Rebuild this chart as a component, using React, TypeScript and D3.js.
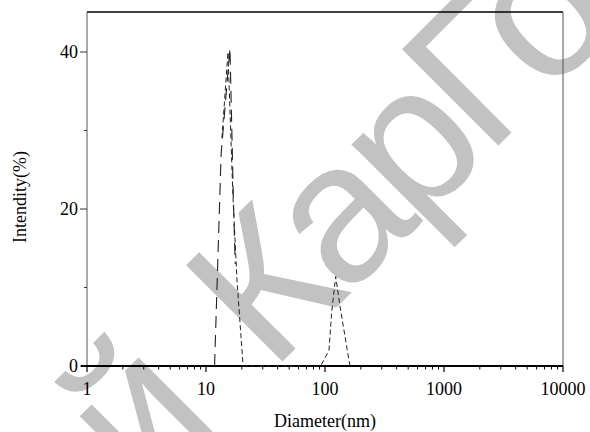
import React from "react";
import * as d3 from "d3";

const W = 590;
const H = 432;
const margin = { left: 87, right: 27, top: 12, bottom: 66 };

// Series A (long dash) : diameter (nm), intensity (%)
const seriesA_x = [11.8, 13.4, 15.9, 17.0, 17.6];
const seriesA_y = [0, 27, 40.5, 21, 13];
// Series B (short dash)
const seriesB_x = [13.6, 15.3, 16.8, 18.2, 20.5, 60, 92, 108, 114, 123, 134, 162];
const seriesB_y = [29, 40, 22, 11, 0, 0, 0, 2, 7, 11.4, 7.5, 0];

const xTicks = [1, 10, 100, 1000, 10000];
const xTickLabels = ["1", "10", "100", "1000", "10000"];
const yTicks = [0, 20, 40];
const yMinorTicks = [10, 30];

export default function App() {
  const x = d3.scaleLog().domain([1, 10000]).range([margin.left, W - margin.right]);
  const y = d3.scaleLinear().domain([0, 45.1]).range([H - margin.bottom, margin.top]);
  const x0 = margin.left, x1 = W - margin.right, y0 = H - margin.bottom, y1 = margin.top;

  const line = d3
    .line<[number, number]>()
    .x((d) => x(d[0]))
    .y((d) => y(d[1]));
  const dataA: [number, number][] = seriesA_x.map((v, i) => [v, seriesA_y[i]]);
  const dataB: [number, number][] = seriesB_x.map((v, i) => [v, seriesB_y[i]]);

  const minor: number[] = [];
  for (let e = 0; e < 4; e++) {
    for (let k = 2; k <= 9; k++) minor.push(k * Math.pow(10, e));
  }

  const font = "'Liberation Serif', 'Times New Roman', serif";
  const wmColor = "#c2c2c2";
  // watermark anchor (start of "К")
  const wx = 271, wy = 373;

  return (
    <svg width={W} height={H} style={{ position: "absolute", left: 0, top: 0, background: "#fff" }}>
      <rect x={0} y={0} width={W} height={H} fill="#fff" />
      {/* watermark */}
      <g transform={`translate(${wx},${wy}) rotate(-45)`} fontFamily="'Liberation Sans', Arial, sans-serif" fontSize={198} fill={wmColor}>
        <text x={-69} y={0} textAnchor="end">ий</text>
        <text x={0} y={0} textAnchor="start" letterSpacing={-10}>КарГо</text>
      </g>
      {/* frame */}
      <line x1={x0} x2={x1} y1={y1} y2={y1} stroke="#000" strokeWidth={1.5} />
      <line x1={x1} x2={x1} y1={y1} y2={y0} stroke="#555" strokeWidth={1} />
      <line x1={x0} x2={x0} y1={y1} y2={y0} stroke="#555" strokeWidth={1} />
      {/* y ticks */}
      {yTicks.map((t) => (
        <g key={"yt" + t}>
          <line x1={x0 - 7} x2={x0} y1={y(t)} y2={y(t)} stroke="#333" strokeWidth={1} />
          <text x={x0 - 9} y={y(t)} dy="0.35em" textAnchor="end" fontFamily={font} fontSize={18} fill="#000">
            {t}
          </text>
        </g>
      ))}
      {yMinorTicks.map((t) => (
        <line key={"ym" + t} x1={x0 - 3} x2={x0} y1={y(t)} y2={y(t)} stroke="#333" strokeWidth={1} />
      ))}
      {/* x axis */}
      <line x1={x0 - 6} x2={x1} y1={y0} y2={y0} stroke="#000" strokeWidth={2} />
      {xTicks.map((t, i) => (
        <g key={"xt" + t}>
          <line x1={x(t)} x2={x(t)} y1={y0} y2={y0 + 6} stroke="#000" strokeWidth={1.2} />
          <text x={x(t)} y={y0 + 29} textAnchor="middle" fontFamily={font} fontSize={18} fill="#000">
            {xTickLabels[i]}
          </text>
        </g>
      ))}
      {minor.map((t) => (
        <line key={"xm" + t} x1={x(t)} x2={x(t)} y1={y0} y2={y0 + 3.5} stroke="#000" strokeWidth={1} />
      ))}
      {/* series */}
      <path d={line(dataA) || ""} fill="none" stroke="#222" strokeWidth={1.1} strokeDasharray="12,7" />
      <path d={line(dataB) || ""} fill="none" stroke="#222" strokeWidth={1} strokeDasharray="5,3" />
      {/* axis titles */}
      <text x={325} y={427} textAnchor="middle" fontFamily={font} fontSize={18} fill="#000">
        Diameter(nm)
      </text>
      <text
        transform={`translate(26,197) rotate(-90)`}
        textAnchor="middle"
        fontFamily={font}
        fontSize={18}
        fill="#000"
      >
        Intendity(%)
      </text>
    </svg>
  );
}
